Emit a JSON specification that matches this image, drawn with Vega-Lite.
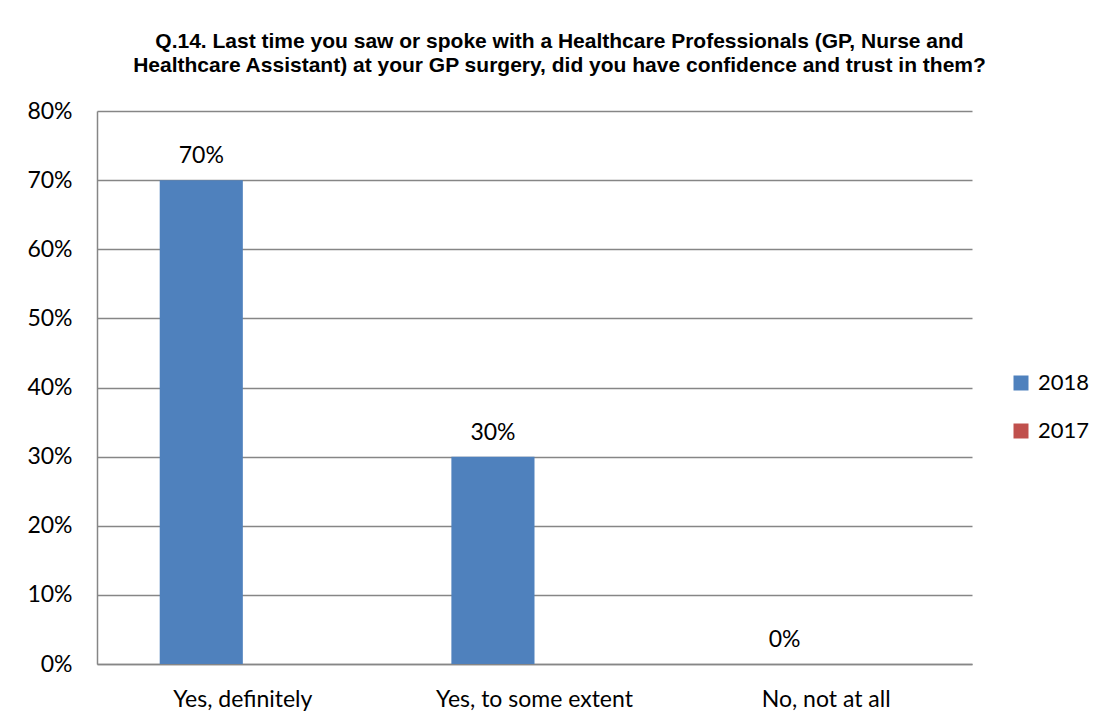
{
  "$schema": "https://vega.github.io/schema/vega-lite/v6.json",
  "autosize": "none",
  "width": 875,
  "height": 553,
  "padding": {"left": 97, "top": 111, "right": 139, "bottom": 60},
  "background": "white",
  "title": {
    "text": ["Q.14. Last time you saw or spoke with a Healthcare Professionals (GP, Nurse and", "Healthcare Assistant) at your GP surgery, did you have confidence and trust in them?"],
    "font": "Liberation Sans",
    "fontSize": 21,
    "fontWeight": "bold",
    "color": "black",
    "anchor": "middle",
    "dx": 25,
    "offset": 24,
    "lineHeight": 24
  },
  "data": {
    "values": [
      {"response": "Yes, definitely", "year": "2018", "value": 0.70},
      {"response": "Yes, to some extent", "year": "2018", "value": 0.30},
      {"response": "No, not at all", "year": "2018", "value": 0.0}
    ]
  },
  "encoding": {
    "x": {
      "field": "response",
      "type": "nominal",
      "sort": ["Yes, definitely", "Yes, to some extent", "No, not at all"],
      "scale": {"paddingInner": 0.43, "paddingOuter": 0.215},
      "axis": {
        "title": null,
        "labelAngle": 0,
        "labelFont": "Lato",
        "labelFontSize": 23,
        "labelColor": "black",
        "labelPadding": 24,
        "labelLimit": 0,
        "ticks": false,
        "domainColor": "#868686",
        "domainWidth": 1.5
      }
    },
    "xOffset": {
      "field": "year",
      "type": "nominal",
      "scale": {"domain": ["2018", "2017"], "paddingInner": 0, "paddingOuter": 0}
    },
    "y": {
      "field": "value",
      "type": "quantitative",
      "scale": {"domain": [0, 0.8], "nice": false},
      "axis": {
        "title": null,
        "format": ".0%",
        "values": [0, 0.1, 0.2, 0.3, 0.4, 0.5, 0.6, 0.7, 0.8],
        "labelFont": "Lato",
        "labelFontSize": 23,
        "labelColor": "black",
        "labelPadding": 25,
        "ticks": false,
        "grid": true,
        "gridColor": "#868686",
        "gridWidth": 1.5,
        "domainColor": "#868686",
        "domainWidth": 1.5
      }
    }
  },
  "layer": [
    {
      "mark": {"type": "bar"},
      "encoding": {
        "color": {
          "field": "year",
          "type": "nominal",
          "scale": {"domain": ["2018", "2017"], "range": ["#4F81BD", "#C0504D"]},
          "legend": {
            "title": null,
            "orient": "none",
            "legendX": 913,
            "legendY": 261,
            "symbolType": "square",
            "symbolSize": 225,
            "symbolStrokeWidth": 0,
            "labelFont": "Lato",
            "labelFontSize": 22,
            "labelColor": "black",
            "rowPadding": 26,
            "labelOffset": 6
          }
        }
      }
    },
    {
      "mark": {"type": "text", "baseline": "alphabetic", "dy": -17, "font": "Lato", "fontSize": 23, "color": "black"},
      "encoding": {
        "text": {"field": "value", "type": "quantitative", "format": ".0%"}
      }
    }
  ],
  "config": {
    "view": {"stroke": null}
  }
}
